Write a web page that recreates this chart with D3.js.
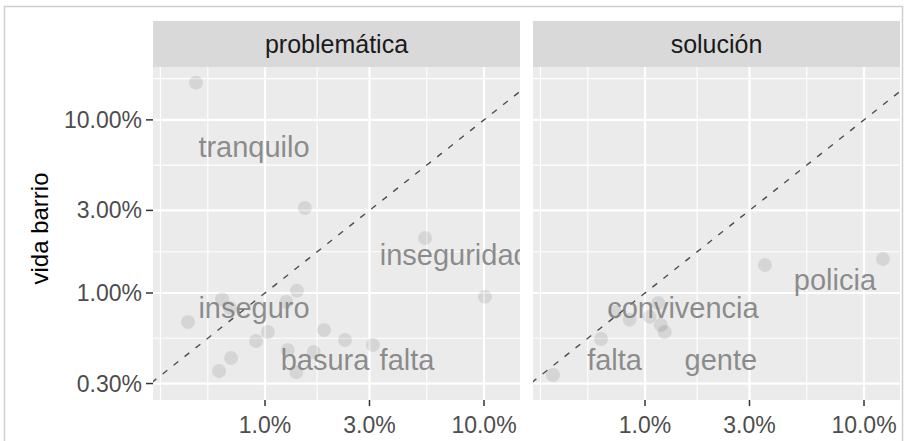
<!DOCTYPE html>
<html>
<head>
<meta charset="utf-8">
<script src="https://cdn.jsdelivr.net/npm/d3@7"></script>
<style>
  body { margin: 0; background: #fff; }
  text { font-family: "Liberation Sans", Arial, sans-serif; }
</style>
</head>
<body>
<div id="chart"></div>
<script>
// facet names
const panels = ["problemática", "solución"];

// points per facet (shares, x = problemática/solución, y = vida barrio)
const probX = [0.00484, 0.0152, 0.0538, 0.101, 0.00637, 0.00692, 0.00445, 0.0140, 0.0125, 0.0091,
               0.0103, 0.0186, 0.0232, 0.0311, 0.0070, 0.00617, 0.0127, 0.0139, 0.0167];
const probY = [0.164, 0.0310, 0.0208, 0.0095, 0.0092, 0.0082, 0.0068, 0.0103, 0.00887, 0.00528,
               0.00595, 0.00611, 0.00535, 0.0050, 0.00421, 0.00354, 0.00469, 0.00349, 0.00456];
const solX = [0.0038, 0.0063, 0.0073, 0.0085, 0.0115, 0.0105, 0.0118, 0.0123, 0.0353, 0.122];
const solY = [0.00336, 0.00542, 0.00776, 0.0070, 0.00875, 0.0073, 0.00653, 0.00595, 0.0145, 0.0157];

// word labels
const probWords = ["tranquilo", "inseguridad", "inseguro", "basura", "falta"];
const probWordX = [0.00891, 0.0735, 0.00891, 0.0188, 0.0445];
const probWordY = [0.0698, 0.0166, 0.00819, 0.0041, 0.0041];
const solWords = ["convivencia", "falta", "gente", "policia"];
const solWordX = [0.0149, 0.00726, 0.0222, 0.0737];
const solWordY = [0.00819, 0.0041, 0.0041, 0.0119];

// axes
const xTicks = [0.01, 0.03, 0.1];
const xMinor = [0.00333, 0.00548, 0.0173, 0.0548];
const yTicks = [0.003, 0.01, 0.03, 0.1];
const yMinor = [0.00548, 0.0173, 0.0548, 0.173];
const xDomain = [0.00308, 0.146];
const yDomain = [0.00241, 0.202];
const yTitle = "vida barrio";

const width = 905, height = 441;
const panelX = [153, 533], panelW = 367;
const stripTop = 21, panelTop = 67, panelBottom = 400;

const svg = d3.select("#chart").append("svg")
    .attr("width", width)
    .attr("height", height);

// outer frame
svg.append("rect")
    .attr("x", 4.5).attr("y", 6.5)
    .attr("width", 898).attr("height", 460)
    .attr("fill", "none")
    .attr("stroke", "#cfcfcf")
    .attr("stroke-width", 1.5);

const y = d3.scaleLog().domain(yDomain).range([panelBottom, panelTop]);

const facets = [
    {name: panels[0], xs: probX, ys: probY, words: probWords, wx: probWordX, wy: probWordY},
    {name: panels[1], xs: solX, ys: solY, words: solWords, wx: solWordX, wy: solWordY}
];

facets.forEach((f, i) => {
    const x0 = panelX[i];
    const x = d3.scaleLog().domain(xDomain).range([x0, x0 + panelW]);

    // strip
    svg.append("rect")
        .attr("x", x0).attr("y", stripTop)
        .attr("width", panelW).attr("height", panelTop - stripTop)
        .attr("fill", "#d9d9d9");
    svg.append("text")
        .attr("x", x0 + panelW / 2).attr("y", (stripTop + panelTop) / 2)
        .attr("dy", "0.35em")
        .attr("text-anchor", "middle")
        .attr("font-size", 25)
        .attr("fill", "#1a1a1a")
        .text(f.name);

    // panel background
    svg.append("rect")
        .attr("x", x0).attr("y", panelTop)
        .attr("width", panelW).attr("height", panelBottom - panelTop)
        .attr("fill", "#ebebeb");

    const clipId = "clip" + i;
    svg.append("clipPath").attr("id", clipId)
        .append("rect")
        .attr("x", x0).attr("y", panelTop)
        .attr("width", panelW).attr("height", panelBottom - panelTop);

    const g = svg.append("g").attr("clip-path", `url(#${clipId})`);

    // grid
    g.selectAll(".ymin").data(yMinor).join("line")
        .attr("x1", x0).attr("x2", x0 + panelW)
        .attr("y1", d => y(d)).attr("y2", d => y(d))
        .attr("stroke", "#fff").attr("stroke-width", 1.1);
    g.selectAll(".xmin").data(xMinor).join("line")
        .attr("y1", panelTop).attr("y2", panelBottom)
        .attr("x1", d => x(d)).attr("x2", d => x(d))
        .attr("stroke", "#fff").attr("stroke-width", 1.1);
    g.selectAll(".ymaj").data(yTicks).join("line")
        .attr("x1", x0).attr("x2", x0 + panelW)
        .attr("y1", d => y(d)).attr("y2", d => y(d))
        .attr("stroke", "#fff").attr("stroke-width", 2.2);
    g.selectAll(".xmaj").data(xTicks).join("line")
        .attr("y1", panelTop).attr("y2", panelBottom)
        .attr("x1", d => x(d)).attr("x2", d => x(d))
        .attr("stroke", "#fff").attr("stroke-width", 2.2);

    // identity line
    const lo = Math.min(xDomain[0], yDomain[0]), hi = Math.max(xDomain[1], yDomain[1]);
    g.append("line")
        .attr("x1", x(lo)).attr("y1", y(lo))
        .attr("x2", x(hi)).attr("y2", y(hi))
        .attr("stroke", "#4d4d4d")
        .attr("stroke-width", 1.4)
        .attr("stroke-dasharray", "6,8");

    // points
    g.selectAll("circle").data(f.xs.map((v, k) => [v, f.ys[k]])).join("circle")
        .attr("cx", d => x(d[0]))
        .attr("cy", d => y(d[1]))
        .attr("r", 7)
        .attr("fill", "#000")
        .attr("fill-opacity", 0.09);

    // word labels
    g.selectAll(".word").data(f.words).join("text")
        .attr("class", "word")
        .attr("x", (d, k) => x(f.wx[k]))
        .attr("y", (d, k) => y(f.wy[k]))
        .attr("dy", "0.35em")
        .attr("text-anchor", "middle")
        .attr("font-size", 29)
        .attr("fill", "#7a7a7a")
        .attr("fill-opacity", 0.85)
        .text(d => d);

    // x axis
    const xa = svg.append("g");
    xa.selectAll("line").data(xTicks).join("line")
        .attr("x1", d => x(d)).attr("x2", d => x(d))
        .attr("y1", panelBottom).attr("y2", panelBottom + 6)
        .attr("stroke", "#333").attr("stroke-width", 1.5);
    xa.selectAll("text").data(xTicks).join("text")
        .attr("x", d => x(d)).attr("y", 433)
        .attr("text-anchor", "middle")
        .attr("font-size", 23)
        .attr("fill", "#4d4d4d")
        .text(d => d3.format(".1%")(d));
});

// y axis
const ya = svg.append("g");
ya.selectAll("line").data(yTicks).join("line")
    .attr("x1", panelX[0] - 7).attr("x2", panelX[0])
    .attr("y1", d => y(d)).attr("y2", d => y(d))
    .attr("stroke", "#333").attr("stroke-width", 1.5);
ya.selectAll("text").data(yTicks).join("text")
    .attr("x", panelX[0] - 11).attr("y", d => y(d))
    .attr("dy", "0.35em")
    .attr("text-anchor", "end")
    .attr("font-size", 23)
    .attr("fill", "#4d4d4d")
    .text(d => d3.format(".2%")(d));

svg.append("text")
    .attr("transform", `translate(40,${(panelTop + panelBottom) / 2 - 5}) rotate(-90)`)
    .attr("dy", "0.35em")
    .attr("text-anchor", "middle")
    .attr("font-size", 24)
    .attr("fill", "#000")
    .text(yTitle);
</script>
</body>
</html>
